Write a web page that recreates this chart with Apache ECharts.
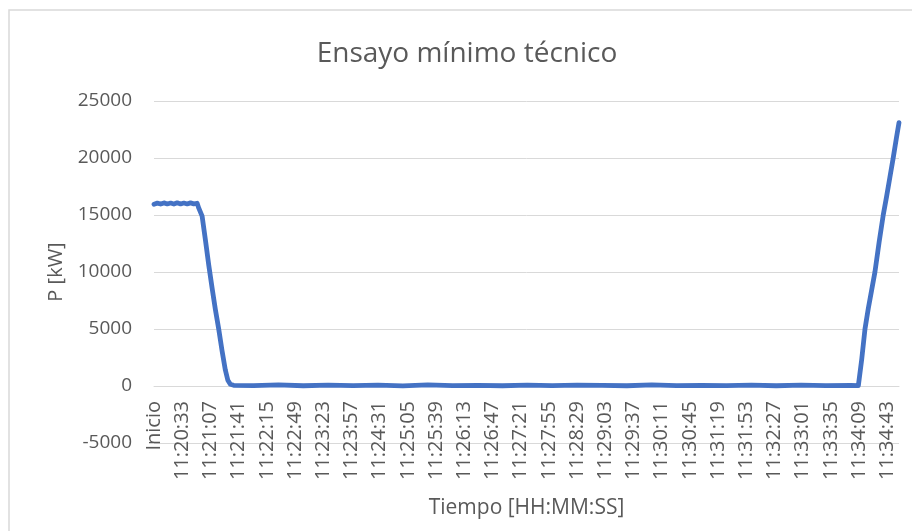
<!DOCTYPE html>
<html>
<head>
<meta charset="utf-8">
<script src="https://cdn.jsdelivr.net/npm/echarts@6/dist/echarts.min.js"></script>
<style>html,body{margin:0;padding:0;background:#fff}#c{width:912px;height:531px}</style>
</head>
<body>
<div id="c"></div>
<script>
// Tick labels along the time axis (one every 34 s)
const tickLabels = ['Inicio','11:20:33','11:21:07','11:21:41','11:22:15','11:22:49','11:23:23','11:23:57','11:24:31','11:25:05','11:25:39','11:26:13','11:26:47','11:27:21','11:27:55','11:28:29','11:29:03','11:29:37','11:30:11','11:30:45','11:31:19','11:31:53','11:32:27','11:33:01','11:33:35','11:34:09','11:34:43'];
const tickStep = 34;
const lastSecond = 898;

const seconds = [0,4,8,12,16,20,24,28,32,36,40,44,48,52,
  54,58,62,66,70,74,78,82,86,89,92,96,
  120,150,180,210,240,270,300,330,360,390,420,450,480,510,540,570,600,630,660,690,720,750,780,810,840,849,
  853,857,861,865,869,874,879,883,887,891,895,898];
const power = [15950,16040,15960,16060,15970,16050,15960,16070,15970,16050,15970,16060,15980,16030,
  15600,14900,12800,10600,8600,6700,5000,3100,1400,500,150,60,
  40,90,20,80,30,70,10,90,40,60,20,80,30,70,50,20,90,40,60,30,80,20,70,40,60,30,
  2300,5000,6800,8400,10000,12600,15000,16600,18300,20000,21800,23100];

const seriesData = seconds.map((s, i) => [s, power[i]]);

const chart = echarts.init(document.getElementById('c'), null, {renderer: 'canvas'});
const txt = '#595959';
const font = "'Open Sans', 'DejaVu Sans', sans-serif";
chart.setOption({
  animation: false,
  backgroundColor: '#ffffff',
  title: {
    text: 'Ensayo mínimo técnico',
    left: 462, top: 35, textAlign: 'center',
    textStyle: {color: txt, fontSize: 28, fontWeight: 'normal', fontFamily: font}
  },
  graphic: [{
    type: 'rect', silent: true, z: -1,
    shape: {x: 9, y: 10, width: 1000, height: 1000},
    style: {fill: 'none', stroke: '#d9d9d9', lineWidth: 1.5}
  }],
  grid: {left: 154, right: 13, top: 101, bottom: 88, containLabel: false, outerBoundsMode: 'none'},
  xAxis: {
    type: 'value', min: 0, max: lastSecond, interval: tickStep,
    offset: -57,
    name: 'Tiempo [HH:MM:SS]', nameLocation: 'middle', nameGap: 112,
    nameTextStyle: {color: txt, fontSize: 21, fontFamily: font},
    axisLine: {show: true, onZero: false, lineStyle: {color: '#d9d9d9', width: 1}},
    axisTick: {show: false},
    splitLine: {show: false},
    axisLabel: {
      rotate: 90, margin: 15, color: txt, fontSize: 20, fontFamily: font,
      showMaxLabel: false, showMinLabel: true,
      formatter: v => (v % tickStep === 0 && tickLabels[v / tickStep] !== undefined) ? tickLabels[v / tickStep] : ''
    }
  },
  yAxis: {
    type: 'value', min: -5000, max: 25000, interval: 5000,
    name: 'P [kW]', nameLocation: 'middle', nameGap: 87,
    nameTextStyle: {color: txt, fontSize: 20, fontFamily: font},
    axisLine: {show: false}, axisTick: {show: false},
    splitLine: {show: true, lineStyle: {color: '#d9d9d9', width: 1}},
    axisLabel: {margin: 22, color: txt, fontSize: 19, fontFamily: font, formatter: v => String(v)}
  },
  series: [{
    type: 'line', data: seriesData, showSymbol: false,
    lineStyle: {color: '#4472C4', width: 4.8, cap: 'round', join: 'round'},
    itemStyle: {color: '#4472C4'}
  }]
});
</script>
</body>
</html>
